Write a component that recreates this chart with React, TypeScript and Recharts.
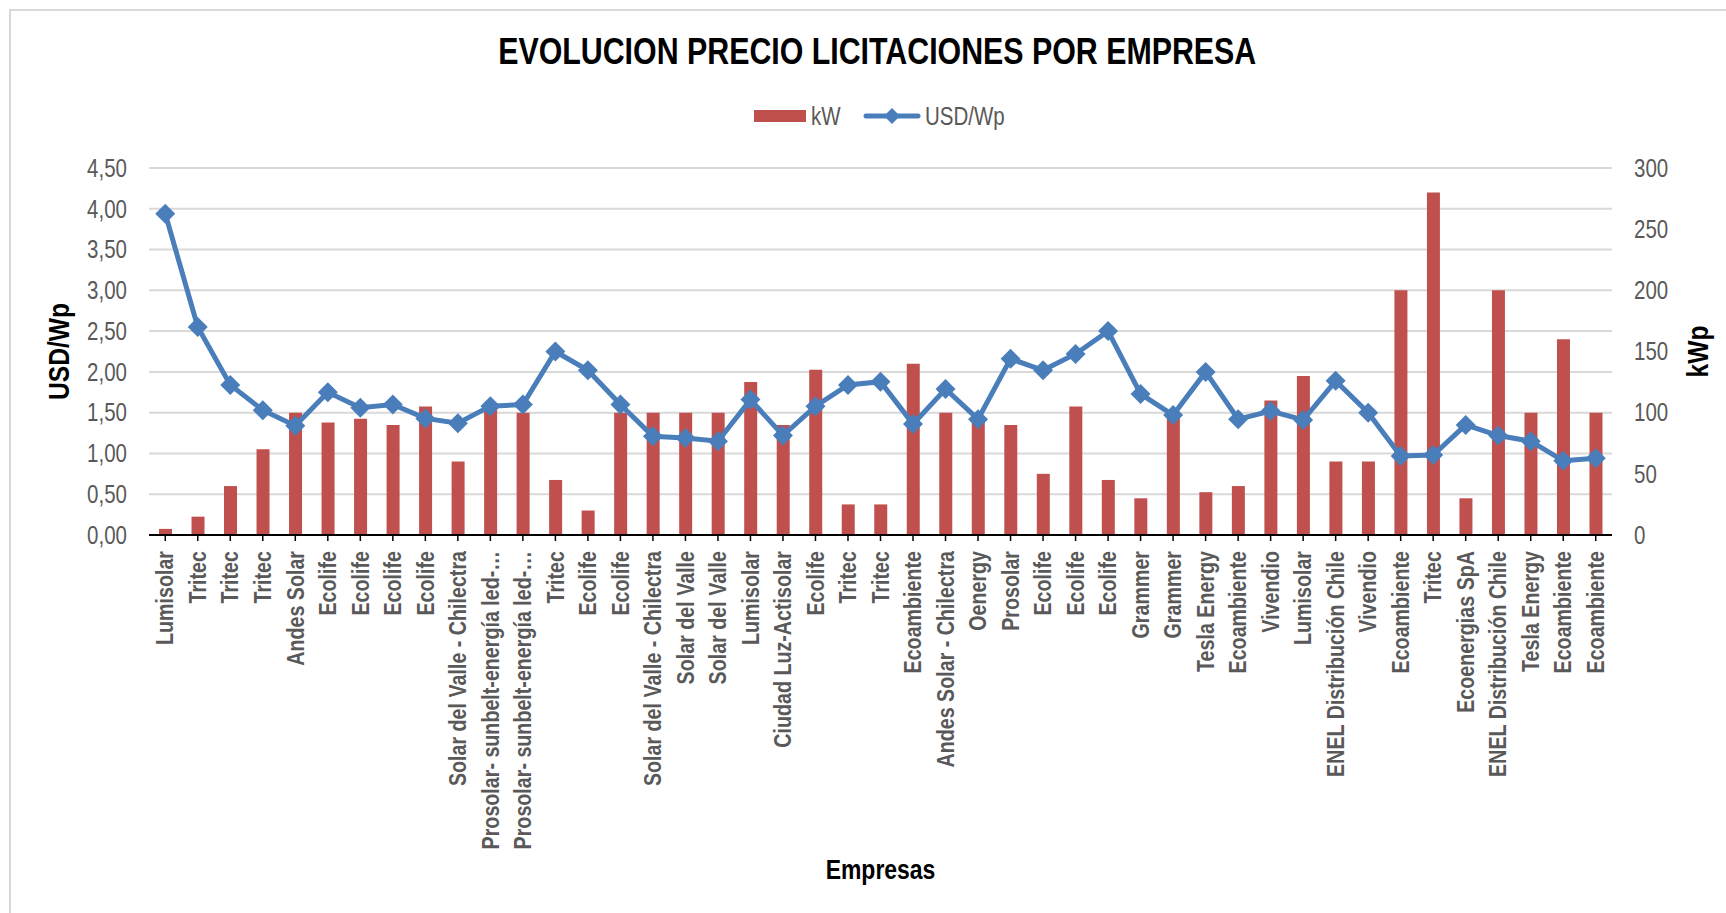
import React from "react";
import {
  ComposedChart,
  Bar,
  Line,
  XAxis,
  YAxis,
  CartesianGrid,
  Legend,
} from "recharts";

// Empresas en el orden de la planilla
const empresas = [
  "Lumisolar", "Tritec", "Tritec", "Tritec", "Andes Solar",
  "Ecolife", "Ecolife", "Ecolife", "Ecolife", "Solar del Valle - Chilectra",
  "Prosolar- sunbelt-energía led-…", "Prosolar- sunbelt-energía led-…", "Tritec", "Ecolife", "Ecolife",
  "Solar del Valle - Chilectra", "Solar del Valle", "Solar del Valle", "Lumisolar", "Ciudad Luz-Actisolar",
  "Ecolife", "Tritec", "Tritec", "Ecoambiente", "Andes Solar - Chilectra",
  "Oenergy", "Prosolar", "Ecolife", "Ecolife", "Ecolife",
  "Grammer", "Grammer", "Tesla Energy", "Ecoambiente", "Vivendio",
  "Lumisolar", "ENEL Distribución Chile", "Vivendio", "Ecoambiente", "Tritec",
  "Ecoenergias SpA", "ENEL Distribución Chile", "Tesla Energy", "Ecoambiente", "Ecoambiente",
];

// potencia (eje derecho, kWp)
const kw = [
  5, 15, 40, 70, 100, 92, 95, 90, 105, 60,
  107, 100, 45, 20, 100, 100, 100, 100, 125, 90,
  135, 25, 25, 140, 100, 95, 90, 50, 105, 45,
  30, 97, 35, 40, 110, 130, 60, 60, 200, 280,
  30, 200, 100, 160, 100,
];

// precio (eje izquierdo, USD/Wp)
const usdWp = [
  3.94, 2.55, 1.84, 1.53, 1.34, 1.75, 1.56, 1.6, 1.43, 1.37,
  1.58, 1.6, 2.25, 2.02, 1.6, 1.21, 1.19, 1.15, 1.66, 1.22,
  1.58, 1.84, 1.88, 1.36, 1.79, 1.42, 2.16, 2.02, 2.22, 2.5,
  1.73, 1.47, 2.0, 1.42, 1.52, 1.41, 1.89, 1.5, 0.97, 0.98,
  1.35, 1.22, 1.15, 0.91, 0.94,
];

const usdTicks = [0, 0.5, 1, 1.5, 2, 2.5, 3, 3.5, 4, 4.5];
const kwTicks = [0, 50, 100, 150, 200, 250, 300];

const data = empresas.map((empresa, i) => ({ empresa, kW: kw[i], usd: usdWp[i] }));

// no Arial Narrow here: Liberation Sans squeezed sideways
const FONT = "'Liberation Sans', Arial, sans-serif";
const NARROW = 0.82;
const GRAY = "#595959";
const RED = "#C0504D";
const BLUE = "#4A7EBB";

const Diamond = (p: any) => {
  const { cx, cy } = p;
  if (cx == null || cy == null) return null;
  const r = 10;
  return (
    <path
      key={p.index}
      d={`M${cx},${cy - r}L${cx + r},${cy}L${cx},${cy + r}L${cx - r},${cy}Z`}
      fill={BLUE}
    />
  );
};

const CompanyTick = ({ x, y, payload }: any) => (
  <text
    transform={`translate(${x},${y}) rotate(-90) scale(${NARROW},1)`}
    textAnchor="end"
    dominantBaseline="central"
    fontFamily={FONT}
    fontSize={24}
    fontWeight="bold"
    fill={GRAY}
  >
    {payload.value}
  </text>
);

const ValueTick = ({ x, y, payload, textAnchor, decimals }: any) => (
  <text
    transform={`translate(${x},${y}) scale(${NARROW},1)`}
    textAnchor={textAnchor}
    dominantBaseline="central"
    fontFamily={FONT}
    fontSize={25}
    fill={GRAY}
  >
    {decimals ? Number(payload.value).toFixed(decimals).replace(".", ",") : payload.value}
  </text>
);

const verticalTitle = (text: string, x: number) => (props: any) => {
  const vb = props.viewBox || {};
  const cy = vb.height ? vb.y + vb.height / 2 : 352;
  return (
    <text
      transform={`translate(${x},${cy}) rotate(-90) scale(${NARROW},1)`}
      textAnchor="middle"
      dominantBaseline="central"
      fontFamily={FONT}
      fontSize={30}
      fontWeight="bold"
      fill="#000"
    >
      {text}
    </text>
  );
};

const bottomTitle = (props: any) => {
  const vb = props.viewBox || {};
  const cx = vb.width ? vb.x + vb.width / 2 : 880;
  const y = vb.height ? vb.y + vb.height + 16 : 879;
  return (
    <text
      transform={`translate(${cx},${y}) scale(${NARROW},1)`}
      textAnchor="middle"
      fontFamily={FONT}
      fontSize={28}
      fontWeight="bold"
      fill="#000"
    >
      Empresas
    </text>
  );
};

const LegendContent = () => (
  <div style={{ display: "flex", justifyContent: "center", paddingLeft: 35 }}>
    <svg width={253} height={30}>
      <rect x={0} y={9} width={52} height={12} fill={RED} />
      <text
        transform={`translate(57,24) scale(${NARROW},1)`}
        fontFamily={FONT}
        fontSize={25}
        fill={GRAY}
      >
        kW
      </text>
      <line x1={112} y1={15} x2={164} y2={15} stroke={BLUE} strokeWidth={5} strokeLinecap="round" />
      <path d="M138,7L146,15L138,23L130,15Z" fill={BLUE} />
      <text
        transform={`translate(171,24) scale(${NARROW},1)`}
        fontFamily={FONT}
        fontSize={25}
        fill={GRAY}
      >
        USD/Wp
      </text>
    </svg>
  </div>
);

export default function App() {
  return (
    <div style={{ position: "absolute", left: 0, top: 0, width: 1726, height: 913, background: "#fff", overflow: "hidden" }}>
      <div
        style={{
          position: "absolute",
          left: 9,
          top: 9,
          width: 1800,
          height: 1000,
          borderTop: "2px solid #D9D9D9",
          borderLeft: "2px solid #D9D9D9",
        }}
      />
      <div
        style={{
          position: "absolute",
          top: 34,
          left: 0,
          width: 1726,
          paddingLeft: 28,
          boxSizing: "border-box",
          textAlign: "center",
          fontFamily: FONT,
          fontSize: 37,
          lineHeight: "36px",
          fontWeight: "bold",
          color: "#000",
          whiteSpace: "nowrap",
        }}
      >
        <span style={{ display: "inline-block", transform: `scaleX(${NARROW})` }}>
          EVOLUCION PRECIO LICITACIONES POR EMPRESA
        </span>
      </div>
      <ComposedChart
        width={1726}
        height={913}
        data={data}
        margin={{ top: 168, right: 14, left: 9, bottom: 50 }}
        style={{ position: "absolute", left: 0, top: 0 }}
      >
        <CartesianGrid yAxisId="left" vertical={false} stroke="#D9D9D9" strokeWidth={2} />
        <XAxis
          dataKey="empresa"
          interval={0}
          height={328}
          tick={<CompanyTick />}
          tickSize={6}
          tickMargin={10}
          tickLine={{ stroke: "#000", strokeWidth: 1.5 }}
          axisLine={{ stroke: "#000", strokeWidth: 2 }}
          label={{ content: bottomTitle }}
        />
        <YAxis
          yAxisId="left"
          domain={[0, 4.5]}
          ticks={usdTicks}
          width={140}
          axisLine={false}
          tickLine={false}
          tickSize={0}
          tickMargin={22}
          tick={<ValueTick decimals={2} />}
          label={{ content: verticalTitle("USD/Wp", 59) }}
        />
        <YAxis
          yAxisId="right"
          orientation="right"
          domain={[0, 300]}
          ticks={kwTicks}
          width={100}
          axisLine={false}
          tickLine={false}
          tickSize={0}
          tickMargin={22}
          tick={<ValueTick />}
          label={{ content: verticalTitle("kWp", 1698) }}
        />
        <Legend
          layout="horizontal"
          verticalAlign="middle"
          align="center"
          content={LegendContent}
          wrapperStyle={{ position: "absolute", top: 101, left: 0, width: 1726, height: 30 }}
        />
        <Bar yAxisId="right" dataKey="kW" name="kW" fill={RED} barSize={13} isAnimationActive={false} />
        <Line
          yAxisId="left"
          type="linear"
          dataKey="usd"
          name="USD/Wp"
          stroke={BLUE}
          strokeWidth={5}
          dot={Diamond}
          activeDot={false}
          isAnimationActive={false}
        />
      </ComposedChart>
    </div>
  );
}
